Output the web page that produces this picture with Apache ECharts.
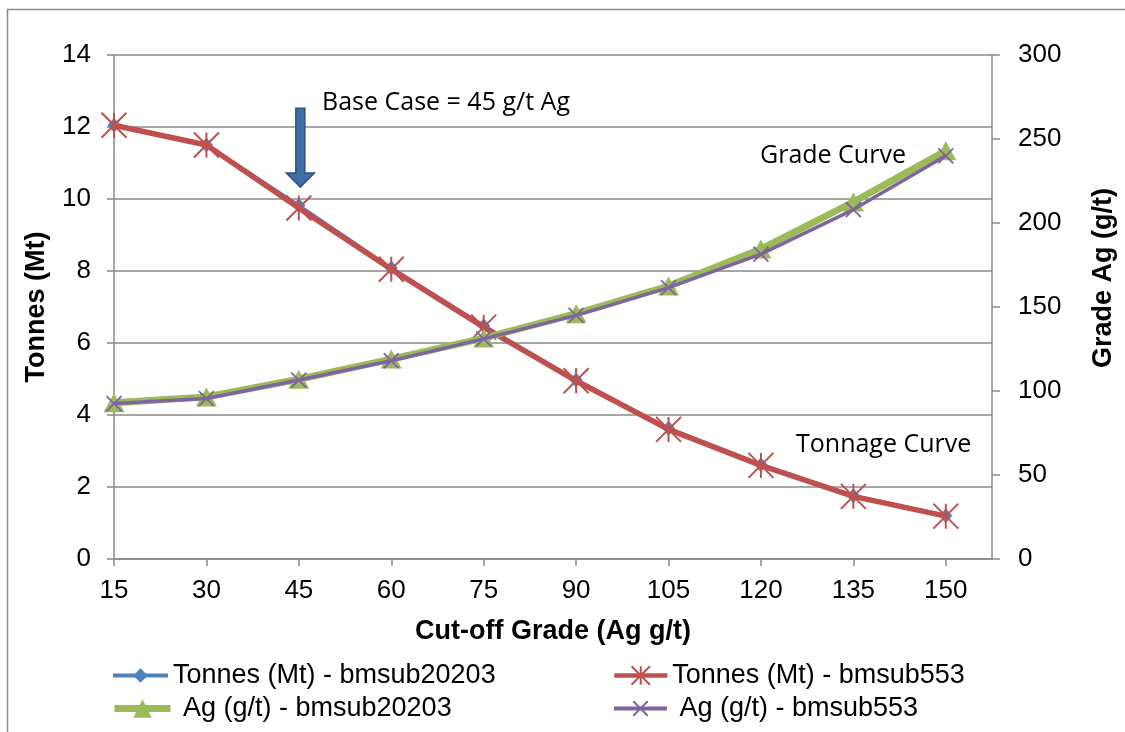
<!DOCTYPE html>
<html>
<head>
<meta charset="utf-8">
<script src="https://cdn.jsdelivr.net/npm/echarts@6/dist/echarts.min.js"></script>
<style>
html,body{margin:0;padding:0;background:#fff;}
#c{width:1125px;height:732px;}
</style>
</head>
<body>
<div id="c"></div>
<script>
// ---- data ----
const cutoffGrades = [15, 30, 45, 60, 75, 90, 105, 120, 135, 150];
const tonnesBmsub20203 = [12.05, 11.5, 9.82, 8.08, 6.48, 4.97, 3.63, 2.62, 1.76, 1.2];
const tonnesBmsub553   = [12.05, 11.5, 9.75, 8.05, 6.44, 4.95, 3.6, 2.6, 1.74, 1.19];
const agBmsub20203     = [93, 96.5, 107, 119, 131.5, 146, 162.5, 184.5, 212.5, 243];
const agBmsub553       = [92.5, 95.5, 106.5, 118, 131, 145, 161.5, 181.5, 208, 240];
const seriesNames = ['Tonnes (Mt) - bmsub20203', 'Tonnes (Mt) - bmsub553', 'Ag (g/t) - bmsub20203', 'Ag (g/t) - bmsub553'];
const tonnesAxis = { min: 0, max: 14, interval: 2 };
const gradeAxis = { min: 0, max: 300, interval: 50 };
const xAxisExtent = { min: 15, max: 157.5 };
// annotation anchor (data space): Base Case arrow at 45 g/t
const baseCase = { grade: 45, top: 12.52, headStart: 10.72, tip: 10.33 };

const pairs = (ys) => cutoffGrades.map((x, i) => [x, ys[i]]);

const BLUE = '#4F81BD', RED = '#C0504D', GREEN = '#9BBB59', PURPLE = '#8064A2';
const AXIS_GRAY = '#8a8a8a';
const FONT = '"Liberation Sans", Arial, sans-serif';
const asterisk = 'path://M0,0L20,20M20,0L0,20M10,0L10,20';
const cross = 'path://M0,0L20,20M20,0L0,20';

const chart = echarts.init(document.getElementById('c'), null, { renderer: 'canvas' });

function legendItem(name, left, top, itemWidth, itemHeight, lineWidth, lead) {
  return {
    data: [name],
    left: left, top: top, padding: 0,
    orient: 'horizontal',
    itemWidth: itemWidth, itemHeight: itemHeight,
    selectedMode: false,
    lineStyle: { width: lineWidth },
    formatter: (n) => (lead ? ' ' : '') + n,
    textStyle: { fontFamily: FONT, fontSize: 27, color: '#000', lineHeight: 27, padding: 0 }
  };
}

const option = {
  animation: false,
  backgroundColor: '#fff',
  grid: { left: 114, top: 55, width: 889, height: 504, containLabel: false },
  legend: [
    legendItem(seriesNames[0], 111, 662, 55, 18, 4, false),
    legendItem(seriesNames[1], 612, 662, 53, 23, 4.5, false),
    legendItem(seriesNames[2], 111, 695, 56, 23, 7, true),
    legendItem(seriesNames[3], 612, 695, 53, 18, 4, true)
  ],
  xAxis: {
    type: 'value',
    min: xAxisExtent.min, max: xAxisExtent.max, interval: 15,
    name: 'Cut-off Grade (Ag g/t)',
    nameLocation: 'middle', nameGap: 59,
    nameTextStyle: { fontFamily: FONT, fontSize: 27, fontWeight: 'bold', color: '#000' },
    axisLine: { show: true, onZero: false, lineStyle: { color: AXIS_GRAY, width: 1.5 } },
    axisTick: { show: true, length: 7, inside: false, customValues: cutoffGrades, lineStyle: { color: AXIS_GRAY, width: 1.5 } },
    axisLabel: {
      show: true, margin: 19, customValues: cutoffGrades,
      fontFamily: FONT, fontSize: 26, color: '#000',
      formatter: (v) => (cutoffGrades.indexOf(v) >= 0 ? String(v) : '')
    },
    splitLine: { show: false }
  },
  yAxis: [
    {
      type: 'value', position: 'left',
      min: tonnesAxis.min, max: tonnesAxis.max, interval: tonnesAxis.interval,
      name: 'Tonnes (Mt)', nameLocation: 'middle', nameGap: 64, nameRotate: 90,
      nameTextStyle: { fontFamily: FONT, fontSize: 27, fontWeight: 'bold', color: '#000' },
      axisLine: { show: true, lineStyle: { color: AXIS_GRAY, width: 1.5 } },
      axisTick: { show: true, length: 7, lineStyle: { color: AXIS_GRAY, width: 1.5 } },
      axisLabel: { margin: 23, fontFamily: FONT, fontSize: 26, color: '#000' },
      splitLine: { show: true, lineStyle: { color: AXIS_GRAY, width: 1.5 } }
    },
    {
      type: 'value', position: 'right',
      min: gradeAxis.min, max: gradeAxis.max, interval: gradeAxis.interval,
      name: 'Grade Ag (g/t)', nameLocation: 'middle', nameGap: 98, nameRotate: 90,
      nameTextStyle: { fontFamily: FONT, fontSize: 27, fontWeight: 'bold', color: '#000', padding: [0, 0, 0, 58] },
      axisLine: { show: true, lineStyle: { color: AXIS_GRAY, width: 1.5 } },
      axisTick: { show: true, length: 8, lineStyle: { color: AXIS_GRAY, width: 1.5 } },
      axisLabel: { margin: 26, fontFamily: FONT, fontSize: 26, color: '#000' },
      splitLine: { show: false }
    }
  ],
  series: [
    {
      name: seriesNames[0], type: 'line', yAxisIndex: 0,
      data: pairs(tonnesBmsub20203),
      symbol: 'diamond', symbolSize: [13, 15],
      lineStyle: { color: BLUE, width: 3.5 },
      itemStyle: { color: BLUE },
      z: 2
    },
    {
      name: seriesNames[1], type: 'line', yAxisIndex: 0,
      data: pairs(tonnesBmsub553),
      symbol: asterisk, symbolSize: 25,
      lineStyle: { color: RED, width: 5.5 },
      itemStyle: { color: RED, borderColor: RED, borderWidth: 2 },
      z: 3
    },
    {
      name: seriesNames[2], type: 'line', yAxisIndex: 1,
      data: pairs(agBmsub20203),
      symbol: 'triangle', symbolSize: [21, 19],
      lineStyle: { color: GREEN, width: 7 },
      itemStyle: { color: GREEN },
      z: 4
    },
    {
      name: seriesNames[3], type: 'line', yAxisIndex: 1,
      data: pairs(agBmsub553),
      symbol: cross, symbolSize: 15,
      lineStyle: { color: PURPLE, width: 3.5 },
      itemStyle: { color: PURPLE, borderColor: PURPLE, borderWidth: 1.8 },
      z: 5
    }
  ]
};

chart.setOption(option);

const px = (x, y) => chart.convertToPixel({ xAxisIndex: 0, yAxisIndex: 0 }, [x, y]);
const aTop = px(baseCase.grade, baseCase.top);
const aHead = px(baseCase.grade, baseCase.headStart);
const aTip = px(baseCase.grade, baseCase.tip);
const cx = aTip[0] + 1.5;
const sw = 4.5, hw = 14;

chart.setOption({
  graphic: [
    {
      type: 'rect', silent: true, z: -10,
      shape: { x: 7.5, y: 9.5, width: 1150, height: 760 },
      style: { fill: 'none', stroke: '#8c8c8c', lineWidth: 1.5 }
    },
    {
      type: 'polygon', silent: true, z: 10,
      shape: { points: [
        [cx - sw, aTop[1]], [cx + sw, aTop[1]], [cx + sw, aHead[1]], [cx + hw, aHead[1]],
        [cx, aTip[1]], [cx - hw, aHead[1]], [cx - sw, aHead[1]]
      ] },
      style: { fill: '#3f6ea6', stroke: '#2d5282', lineWidth: 1.5 }
    },
    {
      type: 'text', silent: true, z: 10,
      style: { x: 322, y: 103, text: 'Base Case = 45 g/t Ag', fontFamily: '"Open Sans", sans-serif', fontSize: 25, fill: '#000', verticalAlign: 'middle', align: 'left' }
    },
    {
      type: 'text', silent: true, z: 10,
      style: { x: 760, y: 156, text: 'Grade Curve', fontFamily: '"Open Sans", sans-serif', fontSize: 25, fill: '#000', verticalAlign: 'middle', align: 'left' }
    },
    {
      type: 'text', silent: true, z: 10,
      style: { x: 796, y: 445, text: 'Tonnage Curve', fontFamily: '"Open Sans", sans-serif', fontSize: 25, fill: '#000', verticalAlign: 'middle', align: 'left' }
    }
  ]
});
</script>
</body>
</html>
